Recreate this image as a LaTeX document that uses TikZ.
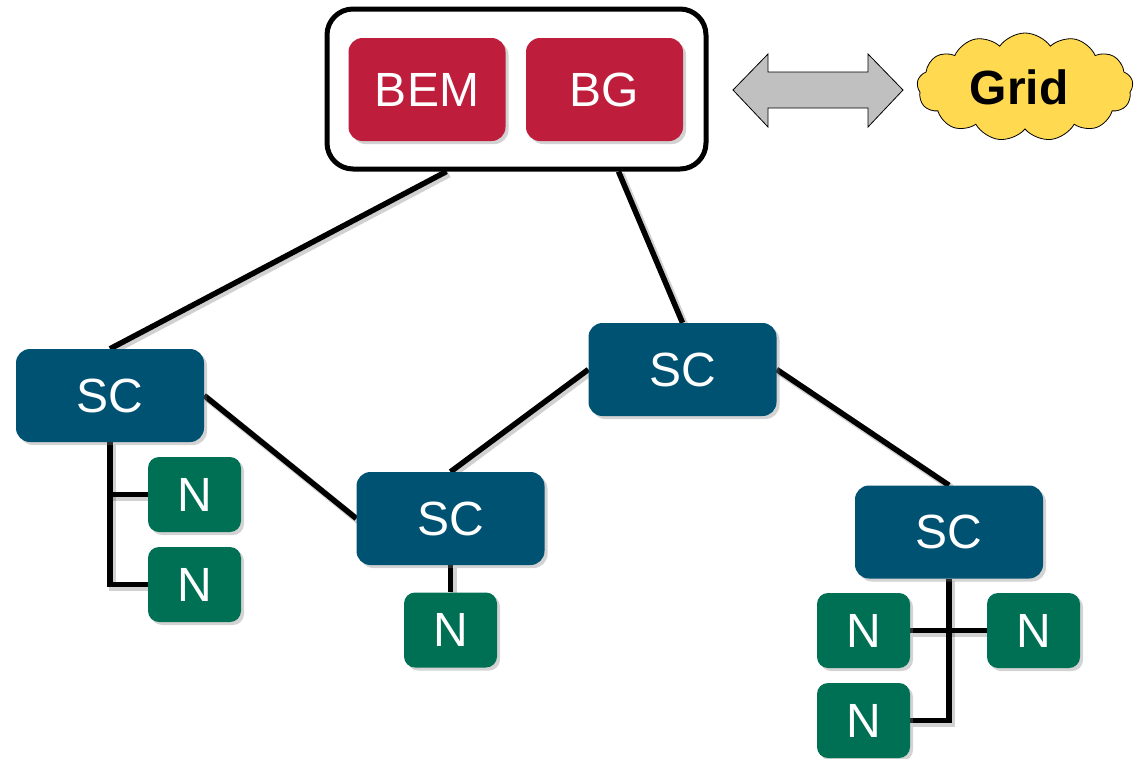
\documentclass[tikz,border=0pt]{standalone}
\usepackage{fontspec}
\setmainfont{Liberation Sans}
\usetikzlibrary{shapes.symbols,shadows,backgrounds}
\definecolor{bemred}{RGB}{190,30,60}
\definecolor{scblue}{RGB}{0,82,115}
\definecolor{ngreen}{RGB}{0,112,84}
\definecolor{gridyellow}{RGB}{255,217,80}
\definecolor{arrowgray}{RGB}{192,192,192}
\begin{document}
\begin{tikzpicture}[x=1pt,y=-1pt,
  softshadow/.style={drop shadow={opacity=0.35,shadow xshift=3pt,shadow yshift=-3pt}},
  box/.style={rounded corners=14pt,inner sep=0pt,text=white,
    font=\fontsize{48}{52}\selectfont,softshadow},
  redbox/.style={box,fill=bemred,minimum width=157pt,minimum height=103pt},
  scbox/.style={box,fill=scblue,minimum width=188pt,minimum height=93pt},
  nbox/.style={box,fill=ngreen,rounded corners=11pt,minimum width=93pt,minimum height=75pt},
  link/.style={line width=5.5pt,
    preaction={draw,black,opacity=0.18,line width=7pt,
      transform canvas={shift={(2.5pt,-2.5pt)}}}}]
\useasboundingbox (0,0) rectangle (1141,758);

% management block
\node[draw,line width=5pt,rounded corners=26pt,minimum width=379pt,minimum height=160pt,inner sep=0pt,fill=white] (top) at (516.5,89) {};
\node[redbox] (bem) at (427,89.5) {BEM};
\node[redbox] (bg) at (604.5,89.5) {BG};

% exchange with the grid
\draw[fill=arrowgray,line width=0.8pt] (733,90) -- (768,54) -- (768,72) -- (868,72) -- (868,54)
  -- (903,90) -- (868,127) -- (868,108) -- (768,108) -- (768,127) -- cycle;
\node[cloud,cloud puffs=13,cloud puff arc=110,aspect=2,draw,line width=0.8pt,fill=gridyellow,
  minimum width=216pt,minimum height=108pt,inner sep=0pt,
  font=\fontsize{48}{52}\selectfont\bfseries] (grid) at (1025,87) {Grid\hspace*{12pt}};

% sub-controllers
\node[scbox] (sc1) at (110,395.5) {SC};
\node[scbox] (sc2) at (682.5,369.5) {SC};
\node[scbox] (sc3) at (450.5,518.5) {SC};
\node[scbox] (sc4) at (949,532) {SC};

% nodes
\node[nbox] (n1) at (194.5,494.5) {N};
\node[nbox] (n2) at (194.5,584.5) {N};
\node[nbox] (n3) at (450.5,630) {N};
\node[nbox] (n4) at (863.5,630.5) {N};
\node[nbox] (n5) at (1033.5,630.5) {N};
\node[nbox] (n6) at (863.5,720.5) {N};

\begin{scope}[on background layer]
% links between levels
\coordinate (t1) at ([xshift=122pt]top.south west);
\coordinate (t2) at ([xshift=294pt]top.south west);
\draw[link] (t1) -- (sc1.north);
\draw[link] (t2) -- (sc2.north);
\draw[link] (sc2.west) -- (sc3.north);
\draw[link] (sc2.east) -- (sc4.north);
\draw[link] (sc1.east) -- (sc3.west);

% sub-controller to node wiring
\draw[link] (sc1.south) |- (n2.west);
\draw[link] (sc1.south |- n1.west) -- (n1.west);
\draw[link] (sc3.south) -- (n3.north);
\draw[link] (sc4.south) |- (n6.east);
\draw[link] (n4.east) -- (n5.west);
\end{scope}
\end{tikzpicture}
\end{document}
